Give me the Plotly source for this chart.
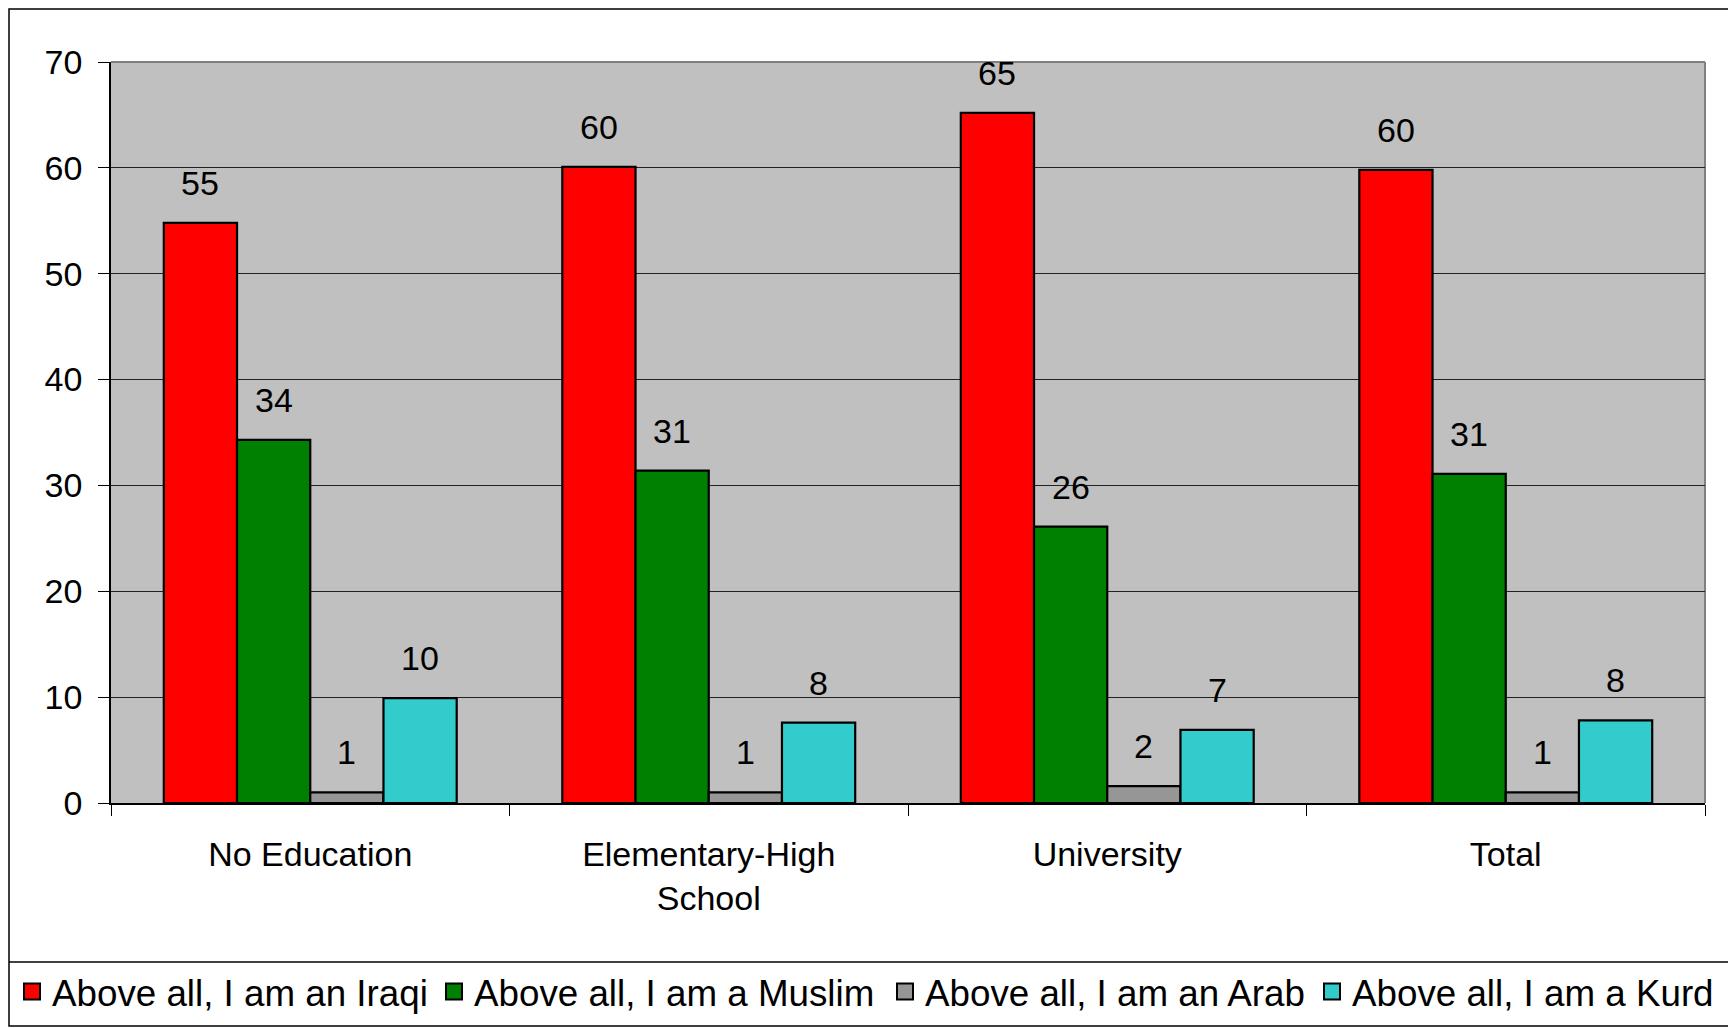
import plotly.graph_objects as go

categories = ["No Education", "Elementary-High<br>School", "University", "Total"]
series_names = [
    "Above all, I am an Iraqi",
    "Above all, I am a Muslim",
    "Above all, I am an Arab",
    "Above all, I am a Kurd",
]
iraqi = [54.8, 60.1, 65.2, 59.8]
muslim = [34.3, 31.4, 26.1, 31.1]
arab = [1.0, 1.0, 1.6, 1.0]
kurd = [9.9, 7.6, 6.9, 7.8]
y_ticks = [0, 10, 20, 30, 40, 50, 60, 70]

series_values = [iraqi, muslim, arab, kurd]
colors = ["#FF0000", "#008000", "#969696", "#33CCCC"]

FONT = "Liberation Sans, Arial, sans-serif"

# page offset caused by the default 8px body margin
OFF = 8
W, H = 1736 - OFF, 1028 - OFF
ML, MR, MT, MB = 103, 31, 54, 225
BARGAP = 0.265
plot_w = W - ML - MR
plot_h = H - MT - MB
bar_px = plot_w / len(categories) * (1 - BARGAP) / len(series_values)

# left edge (page px) of each legend entry
legend_left = [12, 434, 885, 1312]


def px_x(p):
    return (p - OFF - ML) / plot_w


def px_y(p):
    return 1 - (p - OFF - MT) / plot_h


fig = go.Figure()
legend_ids = ["legend", "legend2", "legend3", "legend4"]
for name, vals, col in zip(series_names, series_values, colors):
    fig.add_trace(go.Bar(
        name=name, x=categories, y=vals,
        marker=dict(color=col, line=dict(color="black", width=2.2)),
        legendgroup=name, showlegend=False,
        hoverinfo="x+y+name",
    ))
# legend entries with larger square keys
for name, col, lid in zip(series_names, colors, legend_ids):
    fig.add_trace(go.Scatter(
        name=name, x=[None], y=[None], mode="markers",
        marker=dict(symbol="square", size=16, color=col,
                    line=dict(color="black", width=2)),
        legendgroup=name, showlegend=True, legend=lid,
    ))

annotations = []
n = len(series_values)
for i, vals in enumerate(series_values):
    for cat, v in zip(categories, vals):
        annotations.append(dict(
            x=cat, y=v, xref="x", yref="y",
            text=f"{v:.0f}", showarrow=False,
            xanchor="center", yanchor="bottom",
            xshift=(i - (n - 1) / 2) * bar_px, yshift=19,
            font=dict(family=FONT, size=34, color="black"),
        ))

shapes = [
    # outer chart border
    dict(type="rect", xref="paper", yref="paper",
         x0=px_x(9), x1=px_x(1729), y0=px_y(1026), y1=px_y(9),
         line=dict(color="black", width=1.5), layer="below"),
    # legend separator line
    dict(type="line", xref="paper", yref="paper",
         x0=px_x(9), x1=px_x(1729), y0=px_y(962), y1=px_y(962),
         line=dict(color="black", width=1.5)),
    # plot area top / right border (gray)
    dict(type="line", xref="paper", yref="paper", x0=0, x1=1, y0=1, y1=1,
         line=dict(color="#808080", width=2), layer="below"),
    dict(type="line", xref="paper", yref="paper", x0=1, x1=1, y0=0, y1=1,
         line=dict(color="#808080", width=2), layer="below"),
]

legend_common = dict(
    orientation="h",
    xanchor="left",
    y=px_y(991.5), yanchor="middle",
    font=dict(family=FONT, size=36.75, color="black"),
    bgcolor="rgba(0,0,0,0)",
    borderwidth=0,
    itemwidth=30,
)
legends = {lid: dict(legend_common, x=px_x(left))
           for lid, left in zip(legend_ids, legend_left)}

fig.update_layout(
    width=W, height=H,
    margin=dict(l=ML, r=MR, t=MT, b=MB, pad=0, autoexpand=False),
    paper_bgcolor="white",
    plot_bgcolor="#C0C0C0",
    barmode="group",
    bargap=BARGAP,
    bargroupgap=0,
    font=dict(family=FONT, size=34, color="black"),
    showlegend=True,
    annotations=annotations,
    shapes=shapes,
    **legends,
)

fig.update_xaxes(
    type="category",
    showline=True, linecolor="black", linewidth=1.5,
    ticks="outside", tickson="boundaries", ticklen=11, tickcolor="black", tickwidth=1,
    ticklabelstandoff=20,
    tickfont=dict(family=FONT, size=34, color="black"),
    showgrid=False,
)
fig.update_yaxes(
    range=[0, 70],
    tickvals=y_ticks,
    showline=True, linecolor="black", linewidth=1.5,
    ticks="outside", ticklen=11, tickcolor="black", tickwidth=1,
    ticklabelstandoff=9,
    tickfont=dict(family=FONT, size=34, color="black"),
    showgrid=True, gridcolor="#222222", gridwidth=1,
    zeroline=False,
)

fig.write_html("out.html")
